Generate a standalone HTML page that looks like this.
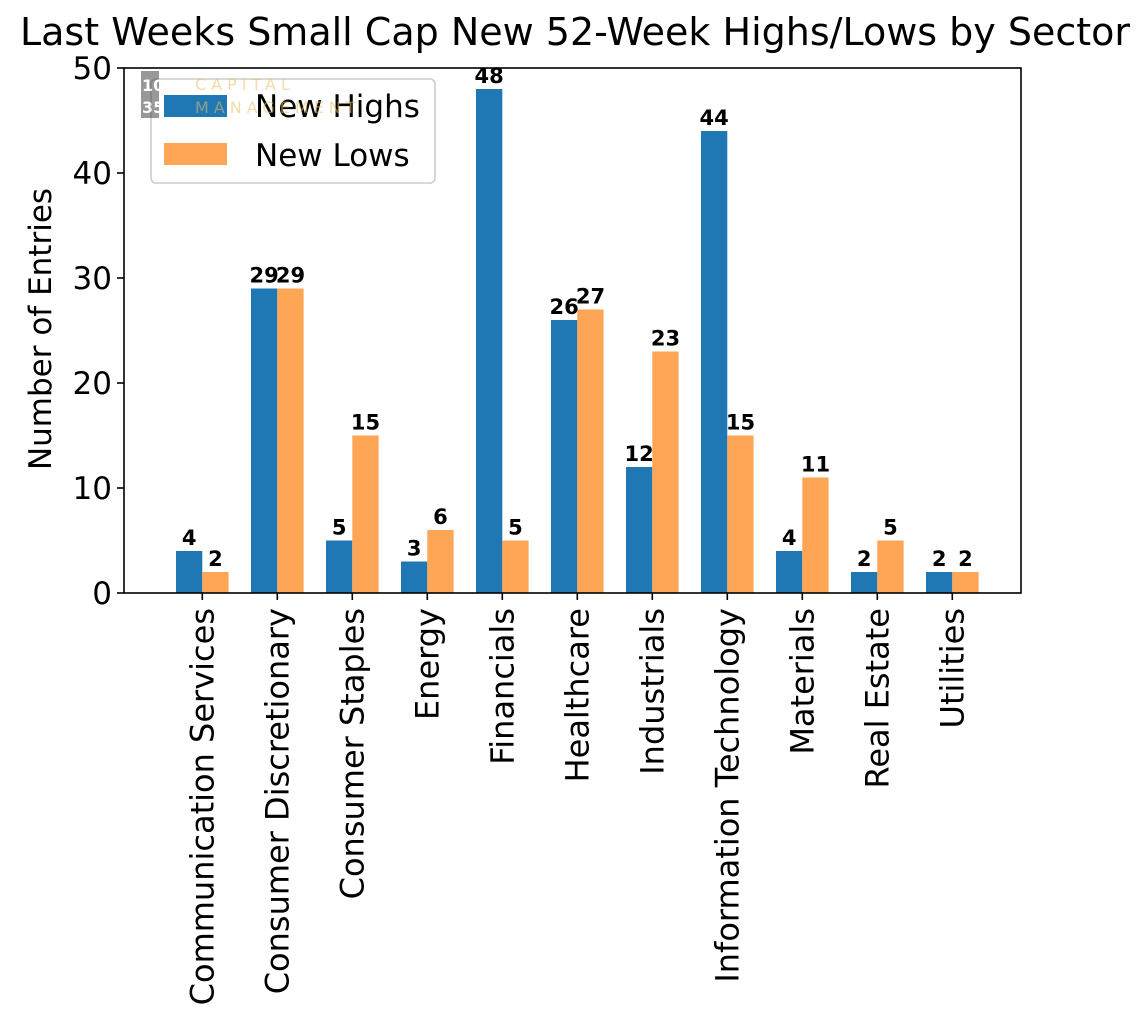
<!DOCTYPE html>
<html><head><meta charset="utf-8"><style>
body{margin:0;background:#fff;}
svg text{font-family:"DejaVu Sans","Liberation Sans",sans-serif;}
</style></head><body>
<svg id="chart" width="1142" height="1012" xmlns="http://www.w3.org/2000/svg">
<text x="575" y="45" font-size="38" text-anchor="middle">Last Weeks Small Cap New 52-Week Highs/Lows by Sector</text>
<text transform="translate(51,329) rotate(-90)" font-size="31" text-anchor="middle">Number of Entries</text>
<g id="bars"></g>
<g id="axes"></g>
<rect x="124" y="68" width="897" height="525" fill="none" stroke="#000" stroke-width="1.6"/>
<g>
<rect x="151" y="79" width="284" height="104" rx="5" fill="#fff" fill-opacity="0.8" stroke="#ccc" stroke-width="1.6"/>
<rect x="164" y="95" width="63" height="22" fill="#1f77b4"/>
<text x="255" y="117" font-size="31">New Highs</text>
<rect x="164" y="143" width="63" height="22" fill="#ffa556"/>
<text x="255" y="166" font-size="31">New Lows</text>
</g>
<g opacity="0.55">
<rect x="141" y="71" width="18" height="47" fill="#444"/>
<text x="142" y="91" font-size="16" font-family="Liberation Serif" fill="#fff" font-weight="bold">10</text>
<text x="142" y="113" font-size="16" font-family="Liberation Serif" fill="#fff" font-weight="bold">35</text>
<text x="195" y="90" font-size="16" fill="#e8c060" letter-spacing="5">CAPITAL</text>
<text x="195" y="113" font-size="16" fill="#e8c060" letter-spacing="5">MANAGEMENT</text>
</g>
</svg>
<script>
const categories=["Communication Services","Consumer Discretionary","Consumer Staples","Energy","Financials","Healthcare","Industrials","Information Technology","Materials","Real Estate","Utilities"];
const highs=[4,29,5,3,48,26,12,44,4,2,2];
const lows=[2,29,15,6,5,27,23,15,11,5,2];
const yTicks=[0,10,20,30,40,50];
const NS="http://www.w3.org/2000/svg";
const x0=202.3,step=75,bw=26.3;
function xc(i){return x0+step*i;}
function y(v){return 593-v*10.5;}
const bars=document.getElementById('bars'),axes=document.getElementById('axes');
function mk(tag,attrs,parent){const e=document.createElementNS(NS,tag);for(const k in attrs)e.setAttribute(k,attrs[k]);parent.appendChild(e);return e;}
categories.forEach((c,i)=>{
  const cx=xc(i);
  const b=mk('rect',{x:cx-bw,y:y(highs[i]),width:bw,height:y(0)-y(highs[i]),fill:'#1f77b4'},bars);
  
  
  const o=mk('rect',{x:cx,y:y(lows[i]),width:bw,height:y(0)-y(lows[i]),fill:'#ffa556'},bars);
  
  
  const t1=mk('text',{x:cx-bw/2,y:y(highs[i])-6,'font-size':21,'font-weight':'bold','text-anchor':'middle'},bars);
  t1.textContent=highs[i];
  
  
  const t2=mk('text',{x:cx+bw/2,y:y(lows[i])-6,'font-size':21,'font-weight':'bold','text-anchor':'middle'},bars);
  t2.textContent=lows[i];
  
  
  const tk=mk('line',{x1:cx,x2:cx,y1:593,y2:600,stroke:'#000','stroke-width':1.6},axes);
  
  
  const lb=mk('text',{transform:`translate(${cx+11},608) rotate(-90)`,'font-size':32,'text-anchor':'end'},axes);
  lb.textContent=c;
  
  
});
yTicks.forEach(v=>{
  const tk=mk('line',{x1:117,x2:124,y1:y(v),y2:y(v),stroke:'#000','stroke-width':1.6},axes);
  
  
  const lb=mk('text',{x:112,y:y(v)+11,'font-size':31,'text-anchor':'end'},axes);
  lb.textContent=v;
  
  
});
</script>
</body></html>
